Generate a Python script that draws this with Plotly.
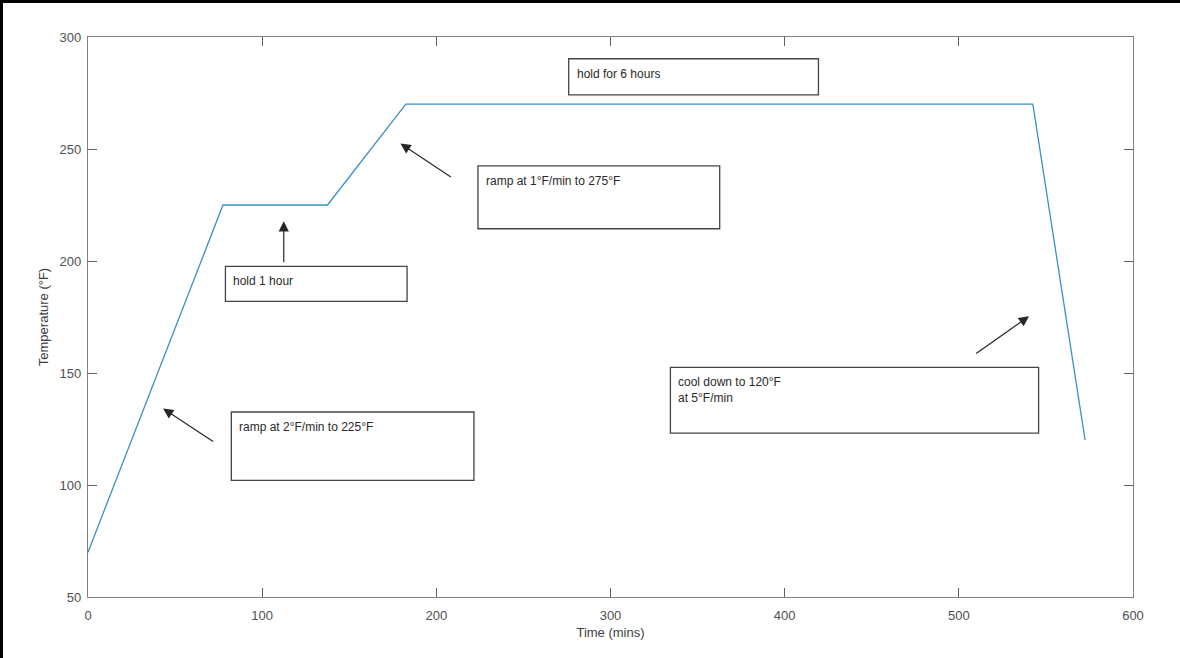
import plotly.graph_objects as go

# Cure profile: breakpoints of the temperature schedule
time_mins = [0, 77.5, 137.5, 182.5, 542.5, 572.5]
temp_f = [70, 225, 225, 270, 270, 120]

x_ticks = [0, 100, 200, 300, 400, 500, 600]
y_ticks = [50, 100, 150, 200, 250, 300]

# Callout boxes: (text, x0, x1, y0, y1) in data units
callouts = [
    ("ramp at 2°F/min to 225°F", 82.3, 221.6, 102.1, 132.6),
    ("hold 1 hour", 78.9, 183.2, 182.0, 197.6),
    ("ramp at 1°F/min to 275°F", 223.9, 362.7, 214.4, 242.5),
    ("hold for 6 hours", 276.0, 419.4, 274.2, 290.3),
    ("cool down to 120°F<br>at 5°F/min", 334.4, 545.8, 123.2, 152.5),
]

# Arrows: (head x, head y, tail x, tail y) in data units
arrows = [
    (43.1, 134.1, 72.7, 119.0),
    (112.4, 217.7, 112.4, 198.8),
    (179.4, 252.4, 209.2, 237.1),
    (540.3, 175.3, 509.1, 158.2),
]

FONT = "Liberation Sans, Arial, sans-serif"

fig = go.Figure()
fig.add_trace(go.Scatter(
    x=time_mins, y=temp_f, mode="lines",
    line=dict(color="#3d8fc6", width=1.3),
    showlegend=False, hoverinfo="skip",
))

shapes = []
annotations = []
for text, x0, x1, y0, y1 in callouts:
    shapes.append(dict(
        type="rect", xref="x", yref="y", x0=x0, x1=x1, y0=y0, y1=y1,
        line=dict(color="#454545", width=1.3), fillcolor="white", layer="above",
    ))
    annotations.append(dict(
        xref="x", yref="y", x=x0, y=y1, text=text, showarrow=False,
        xanchor="left", yanchor="top", xshift=6, yshift=-6, align="left",
        font=dict(family=FONT, size=12, color="#2a2a2a"),
    ))

for hx, hy, tx, ty in arrows:
    annotations.append(dict(
        xref="x", yref="y", x=hx, y=hy, axref="x", ayref="y", ax=tx, ay=ty,
        text="", showarrow=True, arrowhead=2, arrowsize=1.7, arrowwidth=1.2,
        arrowcolor="#262626", standoff=0,
    ))

# Dark frame along the left and top edges of the figure
shapes.append(dict(type="rect", xref="paper", yref="paper",
                   x0=-88 / 1045, x1=-85 / 1045, y0=-61 / 560, y1=(560 + 37) / 560,
                   fillcolor="black", line=dict(width=0), layer="above"))
shapes.append(dict(type="rect", xref="paper", yref="paper",
                   x0=-88 / 1045, x1=(1045 + 47) / 1045, y0=(560 + 34) / 560, y1=(560 + 37) / 560,
                   fillcolor="black", line=dict(width=0), layer="above"))

axis_common = dict(
    showgrid=False, zeroline=False, showline=True, linecolor="#808080", linewidth=1.2,
    mirror="ticks", ticks="inside", ticklen=9, tickcolor="#606060", tickwidth=1,
    tickfont=dict(family=FONT, size=13, color="#505050"),
)

fig.update_layout(
    width=1180, height=658,
    margin=dict(l=88, r=47, t=37, b=61),
    paper_bgcolor="white", plot_bgcolor="white",
    shapes=shapes, annotations=annotations,
    xaxis=dict(range=[0, 600], tickvals=x_ticks, ticklabelstandoff=6, **axis_common,
               title=dict(text="Time (mins)", standoff=6,
                          font=dict(family=FONT, size=13, color="#404040"))),
    yaxis=dict(range=[50, 300], tickvals=y_ticks, ticklabelstandoff=3, **axis_common,
               title=dict(text="Temperature (°F)", standoff=8,
                          font=dict(family=FONT, size=13, color="#404040"))),
)

fig.write_html("out.html")
